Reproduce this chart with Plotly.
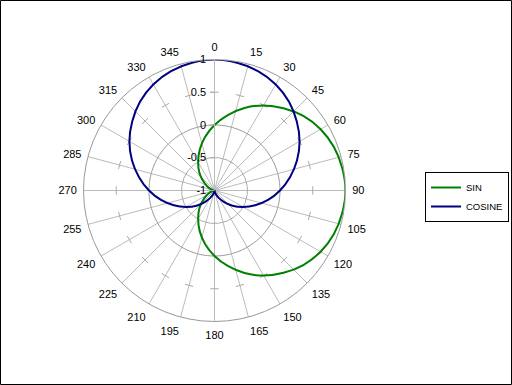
import plotly.graph_objects as go
import numpy as np

theta = [0, 10, 20, 30, 40, 50, 60, 70, 80, 90, 100, 110, 120, 130, 140, 150, 160, 170, 180,
         190, 200, 210, 220, 230, 240, 250, 260, 270, 280, 290, 300, 310, 320, 330, 340, 350, 360]
sin_vals = [0, 0.17, 0.34, 0.5, 0.64, 0.77, 0.87, 0.94, 0.98, 1, 0.98, 0.94, 0.87, 0.77, 0.64, 0.5, 0.34, 0.17, 0,
            -0.17, -0.34, -0.5, -0.64, -0.77, -0.87, -0.94, -0.98, -1, -0.98, -0.94, -0.87, -0.77, -0.64, -0.5, -0.34, -0.17, 0]
cos_vals = [1, 0.98, 0.94, 0.87, 0.77, 0.64, 0.5, 0.34, 0.17, 0, -0.17, -0.34, -0.5, -0.64, -0.77, -0.87, -0.94, -0.98, -1,
            -0.98, -0.94, -0.87, -0.77, -0.64, -0.5, -0.34, -0.17, 0, 0.17, 0.34, 0.5, 0.64, 0.77, 0.87, 0.94, 0.98, 1]
angle_ticks = list(range(0, 360, 15))
radial_ticks = [-1, -0.5, 0, 0.5, 1]
radial_labels = ["-1", "-0.5", "0", "0.5", "1"]

W, H = 512, 385
cx, cy, R = 214.5, 190.5, 131

fig = go.Figure()

# grid circle at r = 0
circ = np.linspace(0, 360, 181)
fig.add_trace(go.Scatterpolar(r=[0] * len(circ), theta=circ, mode="lines",
                              line=dict(color="#999999", width=1), showlegend=False, hoverinfo="skip"))
# minor tick marks at +-0.5 on each spoke
for rv in (-0.5, 0.5):
    fig.add_trace(go.Scatterpolar(r=[rv] * len(angle_ticks), theta=angle_ticks, mode="markers",
                                  marker=dict(symbol="line-ew", size=6, angle=angle_ticks,
                                              line=dict(color="#aaaaaa", width=1)),
                                  showlegend=False, hoverinfo="skip"))

fig.add_trace(go.Scatterpolar(r=sin_vals, theta=theta, mode="lines", name="SIN",
                              line=dict(color="#008000", width=2, shape="spline")))
fig.add_trace(go.Scatterpolar(r=cos_vals, theta=theta, mode="lines", name="COSINE",
                              line=dict(color="#000080", width=2, shape="spline")))

fig.update_layout(
    width=W, height=H,
    margin=dict(l=0, r=0, t=0, b=0),
    paper_bgcolor="white",
    font=dict(family="Liberation Sans, Arial", size=11, color="black"),
    polar=dict(
        domain=dict(x=[(cx - R) / W, (cx + R) / W], y=[(H - cy - R) / H, (H - cy + R) / H]),
        bgcolor="white",
        angularaxis=dict(rotation=90, direction="clockwise", tickmode="array",
                         tickvals=angle_ticks, ticktext=[str(a) for a in angle_ticks],
                         showgrid=True, gridcolor="#bbbbbb", gridwidth=1,
                         showline=True, linecolor="#999999", linewidth=1,
                         ticks="outside", ticklen=4, tickcolor="rgba(0,0,0,0)",
                         tickfont=dict(size=11, color="black")),
        radialaxis=dict(range=[-1, 1], angle=90, tickangle=90, tickmode="array",
                        tickvals=radial_ticks, ticktext=radial_labels,
                        showgrid=False, showline=True, linecolor="#bbbbbb",
                        ticks="outside", ticklen=4, tickcolor="#aaaaaa",
                        side="counterclockwise",
                        tickfont=dict(size=11, color="black")),
    ),
    legend=dict(x=425 / W, y=(H - 172) / H, xanchor="left", yanchor="top",
                bordercolor="black", borderwidth=1, bgcolor="white",
                font=dict(size=9.5, color="black"), tracegroupgap=0, itemwidth=30),
    shapes=[dict(type="rect", xref="paper", yref="paper", x0=0.5 / W, x1=1 - 0.5 / W,
                 y0=0.5 / H, y1=1 - 0.5 / H, line=dict(color="black", width=1))],
)

fig.write_html("out.html", config={"displayModeBar": False},
               post_script="document.body.style.margin='0';")
